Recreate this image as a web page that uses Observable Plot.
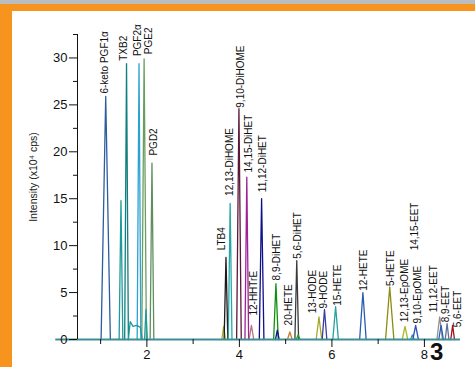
<!DOCTYPE html>
<html><head><meta charset="utf-8">
<script src="https://cdn.jsdelivr.net/npm/d3@7"></script>
<script src="https://cdn.jsdelivr.net/npm/@observablehq/plot@0.6"></script>
<style>
html,body{margin:0;padding:0;background:#fff;}
#wrap{position:relative;width:475px;height:367px;overflow:hidden;background:#fff;font-family:"Liberation Sans",Arial,sans-serif;}
#top{position:absolute;left:0;top:0;width:475px;height:4px;background:#b9bdc1;}
#band{position:absolute;left:0;top:4px;width:475px;height:7px;background:#f7941d;}
#left{position:absolute;left:0;top:4px;width:12px;height:363px;background:#f7941d;}
#chart{position:absolute;left:0;top:0;}
#fig{position:absolute;left:430px;top:338px;font:bold 24px "Liberation Sans",Arial,sans-serif;color:#111;line-height:28px;}
</style></head>
<body>
<div id="wrap"><div id="top"></div><div id="band"></div><div id="left"></div><div id="chart"></div><div id="fig">3</div></div>
<script>
// Peaks (retention time in min, intensity x10^4 cps, half base width in min)
const peakIds = ["6-keto","TXB2a","TXB2","PGF2a","PGE2","PGF2b","PGD2","LTB4a","LTB4","12,13-DiHOME","9,10-DiHOME","14,15-DiHET","12-HHTrE","11,12-DiHET","8,9-DiHET","8,9b","20-HETE","5,6-DiHET","5,6b","13-HODE","9-HODE","15-HETE","12-HETE","5-HETE","12,13-EpOME","14,15-EET","9,10-EpOME","11,12-EET","11,12b","8,9-EET","5,6-EET"];
const peakRT     = [1.11,1.44,1.56,1.83,1.94,1.98,2.11,3.66,3.71,3.80,3.99,4.16,4.26,4.48,4.79,4.82,5.09,5.24,5.27,5.72,5.84,6.08,6.67,7.25,7.58,7.74,7.81,8.33,8.36,8.49,8.61];
const peakHeight = [25.9,14.8,29.4,29.4,29.9,3.2,18.8,1.4,8.75,14.5,24.6,17.3,1.5,15.0,5.95,1.0,0.8,8.4,0.5,2.4,3.2,3.5,5.0,5.6,1.4,0.5,1.5,2.4,1.5,1.7,1.5];
const peakHalfWidth = [0.10,0.04,0.04,0.04,0.05,0.03,0.04,0.04,0.04,0.04,0.05,0.04,0.05,0.05,0.05,0.04,0.05,0.04,0.04,0.06,0.05,0.06,0.07,0.09,0.06,0.04,0.06,0.06,0.05,0.04,0.04];
const peakColors = ["#2c5d9e","#1e9a9a","#0f7f7f","#2aa2d2","#6b9e5e","#1e9a9a","#5f8f5f","#b0b030","#1a1a1a","#2aa5a5","#5a1838","#a0209a","#b07878","#10108a","#10900f","#10108a","#c87a30","#3a3a3a","#20a020","#a8a828","#3c3ca0","#28a0a0","#2a5cb0","#8c8c10","#a8b828","#28a0a0","#3050b8","#909090","#2a60b0","#607090","#a01020"];
// TXB2 tailing plateau
const tailX = [1.60,1.64,1.70,1.78,1.86,1.90];
const tailY = [0,1.9,1.4,1.5,1.3,0];

// Peak labels: label position (min) and intensity where the text starts
const labelNames = ["6-keto PGF1α","TXB2","PGF2α","PGE2","PGD2","LTB4","12,13-DiHOME","9,10-DiHOME","14,15-DiHET","11,12-DiHET","12-HHTrE","8,9-DiHET","20-HETE","5,6-DiHET","13-HODE","9-HODE","15-HETE","12-HETE","5-HETE","12,13-EpOME","9,10-EpOME","14,15-EET","11,12-EET","8,9-EET","5,6-EET"];
const labelRT = [1.09,1.51,1.81,2.04,2.14,3.63,3.79,4.03,4.21,4.50,4.31,4.80,5.07,5.26,5.59,5.83,6.12,6.69,7.27,7.57,7.85,7.80,8.20,8.47,8.72];
const labelAt = [26.2,29.7,30.2,30.4,19.6,9.5,15.3,24.7,17.8,15.7,2.55,6.3,1.5,8.6,2.8,3.3,3.6,5.2,5.7,1.84,1.7,9.5,2.9,1.84,1.3];

const yTicks = [0,5,10,15,20,25,30];
const yMinor = [2.5,7.5,12.5,17.5,22.5,27.5,32.5];
const xTicks = [2,4,6,8];
const xMinor = [1,3,5,7];

const rows = [];
peakIds.forEach((id,i)=>{
  rows.push({id, x: peakRT[i]-peakHalfWidth[i], y: 0});
  rows.push({id, x: peakRT[i], y: peakHeight[i]});
  rows.push({id, x: peakRT[i]+peakHalfWidth[i], y: 0});
});
tailX.forEach((x,i)=>rows.push({id:"TXB2tail", x, y: tailY[i]}));
const labels = labelNames.map((t,i)=>({t, x: labelRT[i], y: labelAt[i]}));

const plot = Plot.plot({
  width:475, height:367,
  marginLeft:77, marginRight:15, marginTop:34, marginBottom:28,
  style:{background:"transparent", fontFamily:"'Liberation Sans', Arial, sans-serif", fontSize:"13px", color:"#111", overflow:"visible"},
  x:{domain:[0.5,8.78]},
  y:{domain:[0,32.5]},
  color:{domain:[...peakIds,"TXB2tail"], range:[...peakColors,"#1e9a9a"]},
  marks:[
    Plot.line(rows, {x:"x", y:"y", z:"id", stroke:"id", strokeWidth:1.3}),
    Plot.ruleY([0], {x1:0.03, x2:8.78, stroke:"#3d8f97", strokeWidth:2}),
    Plot.ruleX([0.5], {y1:0, y2:32.5, stroke:"#111"}),
    Plot.axisY({ticks:yTicks, tickSize:8, tickPadding:2, label:null, fontSize:13}),
    Plot.axisY({ticks:yMinor, tickSize:4, text:null, label:null}),
    Plot.axisX({ticks:xTicks, tickSize:8, tickPadding:2, label:null, fontSize:13}),
    Plot.axisX({ticks:xMinor, tickSize:5, text:null, label:null}),
    Plot.text(labels, {x:"x", y:"y", text:"t", rotate:-90, textAnchor:"start", fontSize:10, fill:"#111"}),
    Plot.text(["Intensity (x10⁴ cps)"], {frameAnchor:"left", textAnchor:"middle", dx:-44, dy:-10, rotate:-90, fontSize:10.5, fill:"#222"})
  ]
});
document.getElementById("chart").appendChild(plot);
</script>
</body></html>
